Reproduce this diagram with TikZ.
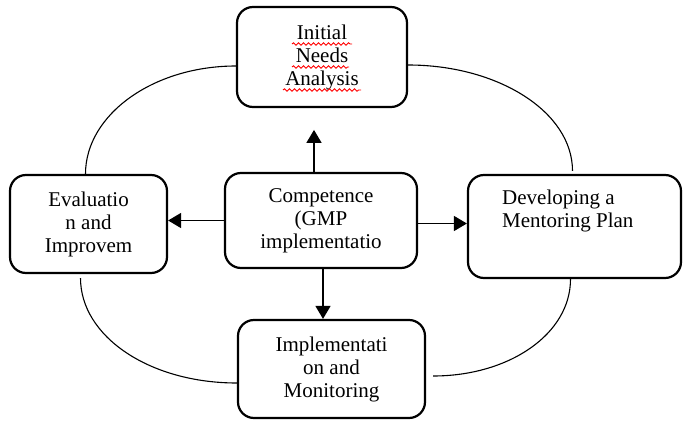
\documentclass[tikz,border=0pt]{standalone}
\usepackage{fontspec}
\setmainfont{Liberation Serif}
\usetikzlibrary{arrows.meta,decorations.pathmorphing}
\begin{document}
\begin{tikzpicture}[x=1pt,y=-1pt,
 box/.style={draw, line width=2.2pt, rounded corners=16pt, align=center,
   font=\fontsize{21}{23}\selectfont, inner sep=0pt},
 lbl/.style={align=left, font=\fontsize{21}{23}\selectfont, inner sep=0pt},
 arcline/.style={line width=1.1pt},
 arr/.style={line width=1.5pt, -{Triangle[length=13pt,width=15pt]}},
 wavy/.style={red, line width=0.9pt, decorate,
   decoration={snake, amplitude=1.2pt, segment length=5pt}}]
\useasboundingbox (0,0) rectangle (683,423);
\node[box, minimum width=170pt, minimum height=100pt] (ina) at (322,57) {Initial\\Needs\\Analysis};
\node[box, minimum width=157pt, minimum height=98pt] (eval) at (88.5,224) {Evaluatio\\n and\\Improvem};
\node[box, minimum width=192pt, minimum height=95pt] (comp) at (321,220.5) {Competence\\(GMP\\implementatio};
\node[box, minimum width=213pt, minimum height=103pt] (dev) at (574.5,226.5) {};
\node[lbl, anchor=west] (devtxt) at (502,211) {Developing a\\Mentoring Plan};
\node[box, minimum width=187pt, minimum height=98pt] (impl) at (331.5,369) {Implementati\\on and\\Monitoring};
% spell-check underlines
\draw[wavy] (292,44) -- (352,44);
\draw[wavy] (292,67) -- (349,67);
\draw[wavy] (283,90) -- (361,90);
% arcs
\draw[arcline] ([xshift=-3pt]eval.north) .. controls +(0,-59) and +(-83,0) .. ([yshift=-9pt]ina.west);
\draw[arcline] ([yshift=-8pt]ina.east) .. controls +(90,0) and +(0,-59) .. ([xshift=-2pt,yshift=3pt]dev.north);
\draw[arcline] ([xshift=-8pt,yshift=-4pt]eval.south) .. controls +(0,58) and +(-88,0) .. ([yshift=-14pt]impl.west);
\draw[arcline] ([xshift=-4pt]dev.south) .. controls +(0,55) and +(76,0) .. ([xshift=7pt,yshift=-7pt]impl.east);
% arrows
\draw[arr] ([xshift=-7pt]comp.north) -- ++(0,-42);
\draw[arr] (comp.west) -- (comp.west -| eval.east);
\draw[arr] ([yshift=-3pt]comp.east) -- ([yshift=-3pt]comp.east -| dev.west);
\draw[arr] ([xshift=2pt]comp.south) -- ([xshift=2pt]comp.south |- impl.north);
\end{tikzpicture}
\end{document}
